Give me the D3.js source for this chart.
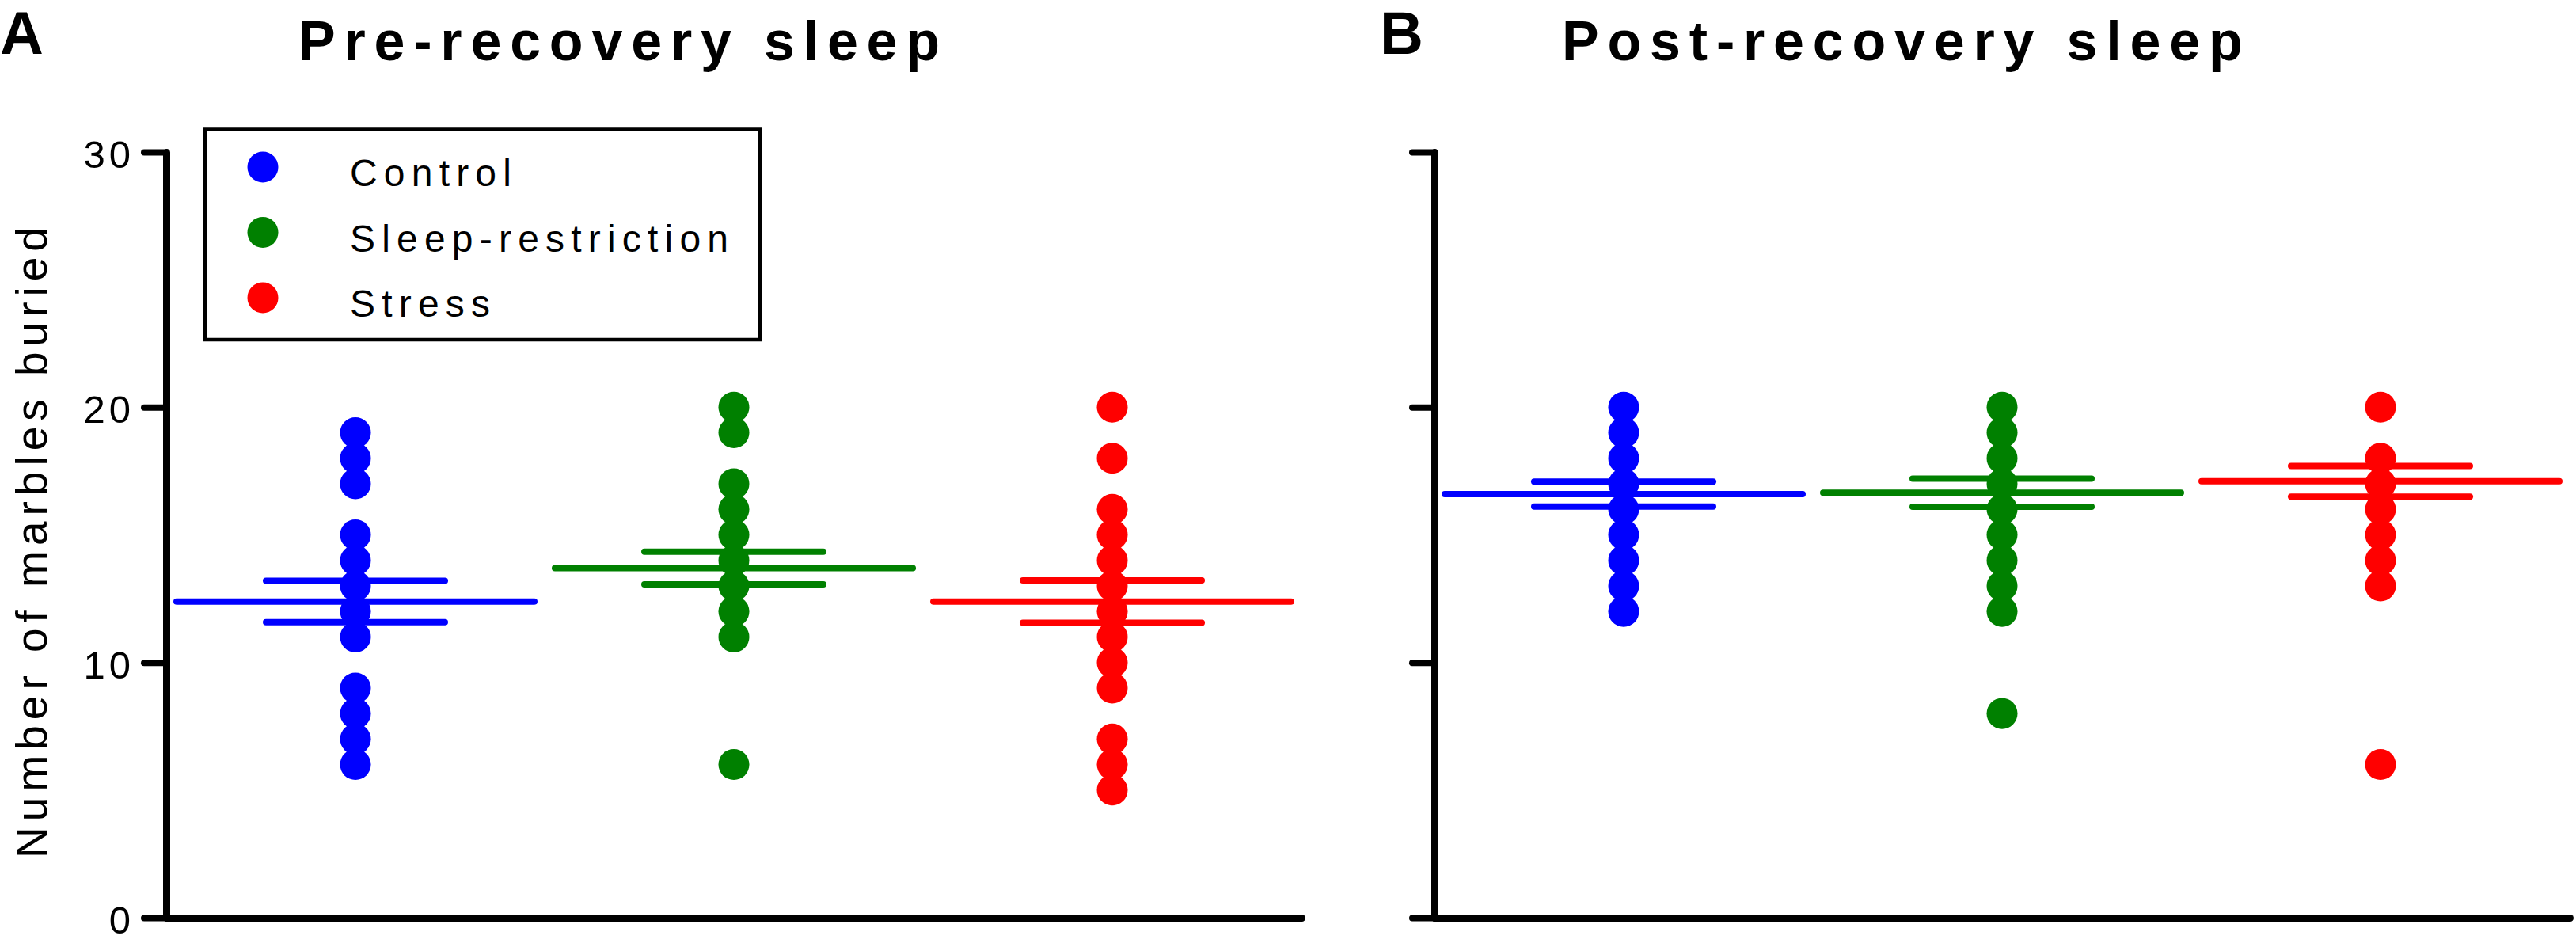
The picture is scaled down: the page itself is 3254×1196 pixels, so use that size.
<!DOCTYPE html>
<html>
<head>
<meta charset="utf-8">
<script src="https://cdn.jsdelivr.net/npm/d3@7"></script>
<style>
  html, body { margin: 0; padding: 0; background: #fff; }
  svg { display: block; }
  text { font-family: "Liberation Sans", Arial, sans-serif; fill: #000; }
</style>
</head>
<body>
<svg id="chart" width="3254" height="1196"></svg>
<script>
// ---------------- data ----------------
const groups = ["Control", "Sleep-restriction", "Stress"];
const groupColors = ["#0000ff", "#008000", "#ff0000"];
const yTicks = [0, 10, 20, 30];

const preControl = [19, 18, 17, 15, 14, 13, 12, 11, 9, 8, 7, 6];
const preSleep   = [20, 19, 17, 16, 15, 14, 13, 12, 11, 6];
const preStress  = [20, 18, 16, 15, 14, 13, 12, 11, 10, 9, 7, 6, 5];
const preMean = [12.39, 13.70, 12.39];
const preSem  = [0.81, 0.64, 0.83];

const postControl = [20, 19, 18, 17, 16, 15, 14, 13, 12];
const postSleep   = [20, 19, 18, 17, 16, 15, 14, 13, 12, 8];
const postStress  = [20, 18, 17, 16, 15, 14, 13, 6];
const postMean = [16.60, 16.65, 17.10];
const postSem  = [0.49, 0.55, 0.60];

const panelLetters = ["A", "B"];
const panelTitles = ["Pre-recovery sleep", "Post-recovery sleep"];
const yLabel = "Number of marbles buried";

// ---------------- drawing ----------------
const svg = d3.select("#chart");
const y = d3.scaleLinear().domain([0, 30]).range([1159, 192]);

function drawPanel(opts) {
  const { x0, x1, dots, means, sems, letter, title, titleX, letterX, showLabels } = opts;
  const x = d3.scalePoint().domain(groups).range([x0, x1]).padding(0.5);
  const g = svg.append("g");

  // bottom axis
  const xAxis = d3.axisBottom(x).tickValues([]).tickSizeOuter(0);
  const gx = g.append("g").attr("transform", `translate(0,${y(0)})`).call(xAxis);
  gx.select(".domain").attr("stroke", "#000").attr("stroke-width", 9).attr("stroke-linecap", "round");

  // left axis
  const yAxis = d3.axisLeft(y).tickValues(yTicks).tickSize(28).tickSizeOuter(0).tickPadding(12)
    .tickFormat(showLabels ? d3.format("d") : () => "");
  const gy = g.append("g").attr("transform", `translate(${x0},0)`).call(yAxis);
  gy.select(".domain").attr("stroke", "#000").attr("stroke-width", 9).attr("stroke-linecap", "round");
  gy.selectAll(".tick line").attr("stroke", "#000").attr("stroke-width", 8).attr("stroke-linecap", "round");
  gy.selectAll(".tick text")
    .attr("font-family", "'Liberation Sans', Arial, sans-serif")
    .attr("font-size", 49)
    .attr("dy", "0.40em")
    .style("letter-spacing", "5px")
    .attr("fill", "#000");

  // dots
  groups.forEach((grp, i) => {
    g.append("g").selectAll("circle").data(dots[i]).join("circle")
      .attr("cx", x(grp))
      .attr("cy", d => y(d))
      .attr("r", 19.5)
      .attr("fill", groupColors[i]);
  });

  // mean and SEM lines
  groups.forEach((grp, i) => {
    const cx = x(grp);
    const lines = [
      { v: means[i], hw: 226 },
      { v: means[i] + sems[i], hw: 113 },
      { v: means[i] - sems[i], hw: 113 }
    ];
    g.append("g").selectAll("line").data(lines).join("line")
      .attr("x1", d => cx - d.hw).attr("x2", d => cx + d.hw)
      .attr("y1", d => y(d.v)).attr("y2", d => y(d.v))
      .attr("stroke", groupColors[i]).attr("stroke-width", 8).attr("stroke-linecap", "round");
  });

  // panel letter and title
  svg.append("text").attr("x", letterX).attr("y", 68)
    .attr("font-size", 76).attr("font-weight", "bold").text(letter);
  svg.append("text").attr("x", titleX).attr("y", 76)
    .attr("font-size", 70).attr("font-weight", "bold")
    .style("letter-spacing", "10.8px").text(title);
}

drawPanel({ x0: 210, x1: 1644, dots: [preControl, preSleep, preStress], means: preMean, sems: preSem,
  letter: panelLetters[0], title: panelTitles[0], titleX: 377, letterX: 0, showLabels: true });
drawPanel({ x0: 1812, x1: 3246, dots: [postControl, postSleep, postStress], means: postMean, sems: postSem,
  letter: panelLetters[1], title: panelTitles[1], titleX: 1973, letterX: 1743, showLabels: false });

// y axis label
svg.append("text")
  .attr("transform", "translate(59,682) rotate(-90)")
  .attr("text-anchor", "middle")
  .attr("font-size", 55)
  .style("letter-spacing", "7px")
  .text(yLabel);

// legend
const legend = svg.append("g");
legend.append("rect").attr("x", 259).attr("y", 163.5).attr("width", 701).attr("height", 265.5)
  .attr("fill", "none").attr("stroke", "#000").attr("stroke-width", 4.5);
const legY = d3.scalePoint().domain(groups).range([211, 376]);
legend.selectAll("circle").data(groups).join("circle")
  .attr("cx", 332).attr("cy", d => legY(d)).attr("r", 19.5)
  .attr("fill", (d, i) => groupColors[i]);
legend.selectAll("text").data(groups).join("text")
  .attr("x", 442).attr("y", d => legY(d) + 24)
  .attr("font-size", 48)
  .style("letter-spacing", "8.2px")
  .text(d => d);
</script>
</body>
</html>
